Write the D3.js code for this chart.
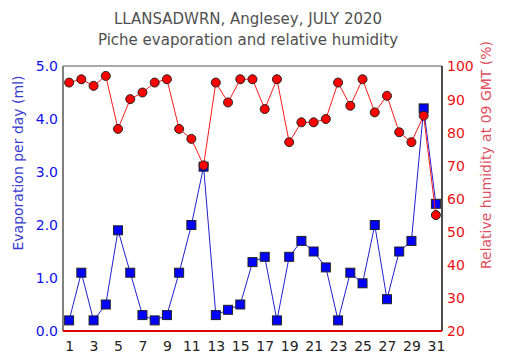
<!DOCTYPE html>
<html><head><meta charset="utf-8">
<script src="https://cdn.jsdelivr.net/npm/d3@7"></script>
<style>body{margin:0;background:#fff}svg{display:block}</style>
</head><body>
<svg id="c" width="513" height="360"></svg>
<script>
const days = d3.range(1, 32);
const evaporation = [0.2,1.1,0.2,0.5,1.9,1.1,0.3,0.2,0.3,1.1,2.0,3.1,0.3,0.4,0.5,1.3,1.4,0.2,1.4,1.7,1.5,1.2,0.2,1.1,0.9,2.0,0.6,1.5,1.7,4.2,2.4];
const humidity = [95,96,94,97,81,90,92,95,96,81,78,70,95,89,96,96,87,96,77,83,83,84,95,88,96,86,91,80,77,85,55];
const xTicks = [1,3,5,7,9,11,13,15,17,19,21,23,25,27,29,31];
const leftTicks = [0,1,2,3,4,5];
const rightTicks = [20,30,40,50,60,70,80,90,100];
const titleLines = ["LLANSADWRN, Anglesey, JULY 2020", "Piche evaporation and relative humidity"];

const svg = d3.select("#c");
const L = 63, R = 442, T = 66, B = 331;
const x = d3.scaleLinear().domain([0.5, 31.5]).range([L, R]);
const yL = d3.scaleLinear().domain([0, 5]).range([B, T]);
const yR = d3.scaleLinear().domain([20, 100]).range([B, T]);
const font = "DejaVu Sans, Verdana, sans-serif";

svg.selectAll("text.title").data(titleLines).join("text")
  .attr("x", 248).attr("y", (d,i) => 24 + i*21)
  .attr("text-anchor", "middle").attr("font-family", font).attr("font-size", 15)
  .attr("fill", "#505050").text(d => d);

// axes
const gx = svg.append("g").attr("transform", `translate(0,${B})`)
  .call(d3.axisBottom(x).tickValues(xTicks).tickSize(0).tickPadding(10).tickFormat(d3.format("d")));
gx.select(".domain").remove();
gx.selectAll("text").attr("font-family", font).attr("font-size", 14).attr("fill", "#222");

const gl = svg.append("g").attr("transform", `translate(${L},0)`)
  .call(d3.axisLeft(yL).tickValues(leftTicks).tickSize(0).tickPadding(5).tickFormat(d3.format(".1f")));
gl.select(".domain").remove();
gl.selectAll("text").attr("font-family", font).attr("font-size", 14).attr("fill", "#1010ee").attr("dy", "0.35em");

const gr = svg.append("g").attr("transform", `translate(${R},0)`)
  .call(d3.axisRight(yR).tickValues(rightTicks).tickSize(0).tickPadding(5).tickFormat(d3.format("d")));
gr.select(".domain").remove();
gr.selectAll("text").attr("font-family", font).attr("font-size", 14).attr("fill", "#ee1010").attr("dy", "0.35em");

// frame
svg.append("line").attr("x1", L).attr("x2", R).attr("y1", T).attr("y2", T).attr("stroke", "#555").attr("stroke-width", 1);
svg.append("line").attr("x1", L).attr("x2", L).attr("y1", T).attr("y2", B).attr("stroke", "#808080").attr("stroke-width", 2);
svg.append("line").attr("x1", R).attr("x2", R).attr("y1", T).attr("y2", B).attr("stroke", "#111").attr("stroke-width", 1.5);
svg.append("line").attr("x1", L).attr("x2", R).attr("y1", B).attr("y2", B).attr("stroke", "#e00000").attr("stroke-width", 2);

// axis titles
svg.append("text").attr("transform", `translate(23,163) rotate(-90)`)
  .attr("text-anchor", "middle").attr("font-family", font).attr("font-size", 14)
  .attr("fill", "#3a3ad0").text("Evaporation per day (ml)");
svg.append("text").attr("transform", `translate(491,155) rotate(-90)`)
  .attr("text-anchor", "middle").attr("font-family", font).attr("font-size", 14)
  .attr("fill", "#e05060").text("Relative humidity at 09 GMT (%)");

// evaporation series
const evapData = days.map((d,i) => ({d, v: evaporation[i]}));
svg.append("path").datum(evapData)
  .attr("d", d3.line().x(p => x(p.d)).y(p => yL(p.v)))
  .attr("fill", "none").attr("stroke", "#2020d0").attr("stroke-width", 1);
svg.selectAll("rect.ev").data(evapData).join("rect").attr("class", "ev")
  .attr("x", p => x(p.d) - 4.5).attr("y", p => yL(p.v) - 4.5)
  .attr("width", 9).attr("height", 9)
  .attr("fill", "#0000ff").attr("stroke", "#222").attr("stroke-width", 1);

// humidity series
const humData = days.map((d,i) => ({d, v: humidity[i]}));
svg.append("path").datum(humData)
  .attr("d", d3.line().x(p => x(p.d)).y(p => yR(p.v)))
  .attr("fill", "none").attr("stroke", "#ff1a1a").attr("stroke-width", 1);
svg.selectAll("circle.hu").data(humData).join("circle").attr("class", "hu")
  .attr("cx", p => x(p.d)).attr("cy", p => yR(p.v)).attr("r", 4.5)
  .attr("fill", "#ff0000").attr("stroke", "#222").attr("stroke-width", 1);
</script>
</body></html>
